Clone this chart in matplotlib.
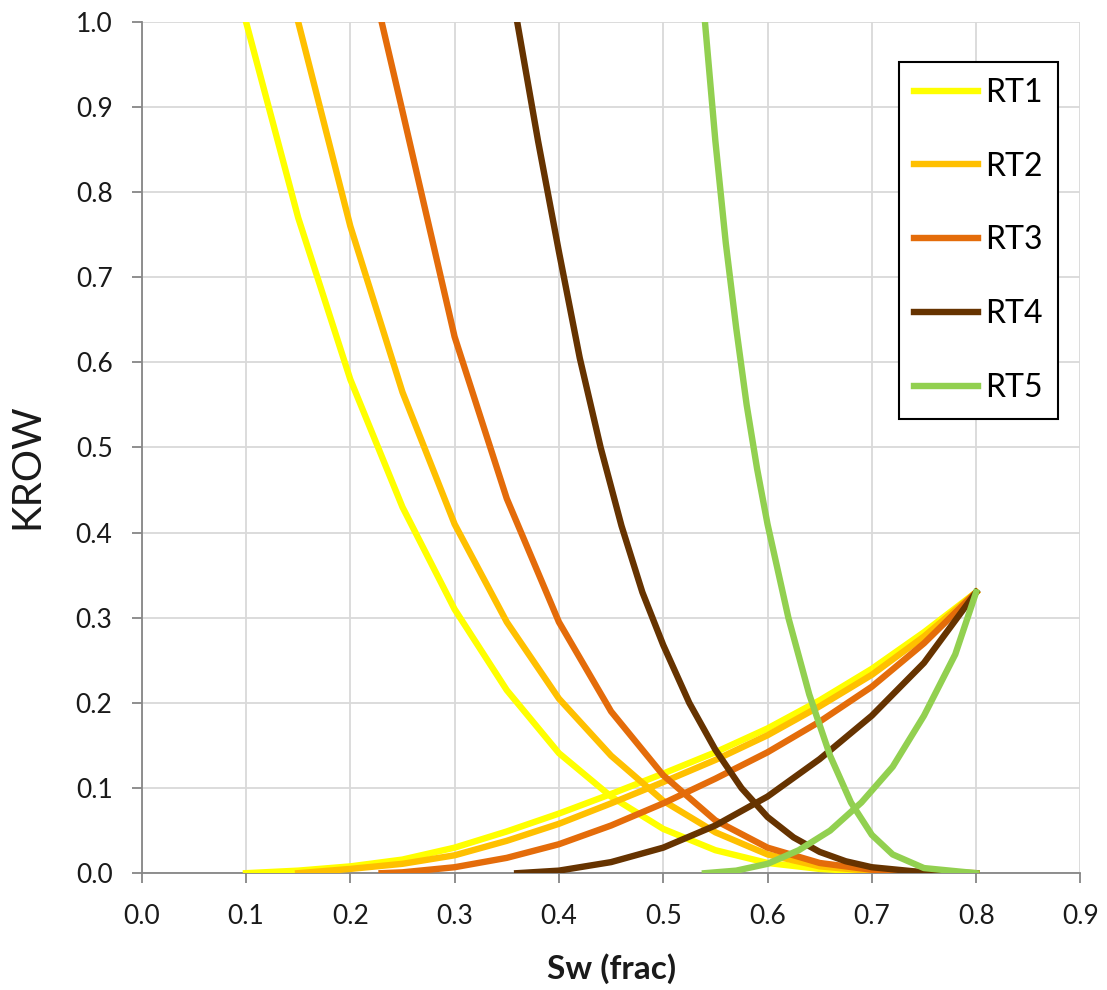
import matplotlib
matplotlib.use("Agg")
import matplotlib.pyplot as plt

plt.rcParams['font.family'] = ['Lato', 'DejaVu Sans']

# Sw (frac) / KROW werte
rt1_sw_o = [0.10, 0.15, 0.20, 0.25, 0.30, 0.35, 0.40, 0.45, 0.50, 0.55, 0.60, 0.65, 0.70, 0.75, 0.80]
rt1_kro = [1.00, 0.77, 0.58, 0.43, 0.31, 0.215, 0.141, 0.09, 0.052, 0.027, 0.012, 0.005, 0.0015, 0.0003, 0.0]
rt1_sw_w = [0.10, 0.15, 0.20, 0.25, 0.30, 0.35, 0.40, 0.45, 0.50, 0.55, 0.60, 0.65, 0.70, 0.75, 0.80]
rt1_krw = [0.0, 0.003, 0.008, 0.016, 0.03, 0.049, 0.07, 0.093, 0.117, 0.142, 0.17, 0.203, 0.24, 0.283, 0.33]

rt2_sw_o = [0.15, 0.20, 0.25, 0.30, 0.35, 0.40, 0.45, 0.50, 0.55, 0.60, 0.65, 0.70, 0.75, 0.80]
rt2_kro = [1.00, 0.76, 0.565, 0.41, 0.295, 0.205, 0.138, 0.085, 0.048, 0.022, 0.008, 0.0025, 0.0005, 0.0]
rt2_sw_w = [0.15, 0.20, 0.25, 0.30, 0.35, 0.40, 0.45, 0.50, 0.55, 0.60, 0.65, 0.70, 0.75, 0.80]
rt2_krw = [0.0, 0.005, 0.011, 0.021, 0.038, 0.058, 0.082, 0.107, 0.133, 0.162, 0.196, 0.233, 0.278, 0.33]

rt3_sw_o = [0.23, 0.25, 0.30, 0.35, 0.40, 0.45, 0.50, 0.55, 0.60, 0.65, 0.70, 0.75, 0.80]
rt3_kro = [1.00, 0.895, 0.63, 0.44, 0.295, 0.19, 0.115, 0.062, 0.03, 0.012, 0.004, 0.001, 0.0]
rt3_sw_w = [0.23, 0.25, 0.30, 0.35, 0.40, 0.45, 0.50, 0.55, 0.60, 0.65, 0.70, 0.75, 0.80]
rt3_krw = [0.0, 0.001, 0.007, 0.018, 0.034, 0.056, 0.082, 0.111, 0.142, 0.178, 0.219, 0.27, 0.33]

rt4_sw_o = [0.36, 0.38, 0.40, 0.42, 0.44, 0.46, 0.48, 0.50, 0.525, 0.55, 0.575, 0.60, 0.625, 0.65, 0.675, 0.70, 0.75, 0.80]
rt4_kro = [1.00, 0.86, 0.73, 0.605, 0.50, 0.408, 0.33, 0.268, 0.20, 0.145, 0.10, 0.066, 0.042, 0.025, 0.014, 0.007, 0.001, 0.0]
rt4_sw_w = [0.36, 0.40, 0.45, 0.50, 0.55, 0.60, 0.65, 0.70, 0.75, 0.80]
rt4_krw = [0.0, 0.003, 0.013, 0.03, 0.056, 0.09, 0.134, 0.185, 0.247, 0.33]

rt5_sw_o = [0.54, 0.55, 0.56, 0.57, 0.58, 0.59, 0.60, 0.62, 0.64, 0.66, 0.68, 0.70, 0.72, 0.75, 0.80]
rt5_kro = [1.00, 0.86, 0.74, 0.64, 0.55, 0.475, 0.41, 0.30, 0.21, 0.138, 0.083, 0.045, 0.022, 0.006, 0.0]
rt5_sw_w = [0.54, 0.57, 0.60, 0.63, 0.66, 0.69, 0.72, 0.75, 0.78, 0.80]
rt5_krw = [0.0, 0.003, 0.011, 0.027, 0.05, 0.083, 0.125, 0.185, 0.257, 0.33]

labels = ["RT1", "RT2", "RT3", "RT4", "RT5"]
colors = ["#FFFF00", "#FFC000", "#E46C0A", "#663300", "#92D050"]
kurven = [
    (rt1_sw_o, rt1_kro, rt1_sw_w, rt1_krw),
    (rt2_sw_o, rt2_kro, rt2_sw_w, rt2_krw),
    (rt3_sw_o, rt3_kro, rt3_sw_w, rt3_krw),
    (rt4_sw_o, rt4_kro, rt4_sw_w, rt4_krw),
    (rt5_sw_o, rt5_kro, rt5_sw_w, rt5_krw),
]

fig = plt.figure(figsize=(11.07, 9.9), dpi=100)
ax = fig.add_axes([0.128, 0.118, 0.848, 0.860])

for (swo, kro, sww, krw), lab, col in zip(kurven, labels, colors):
    ax.plot(swo, kro, color=col, lw=4.6, label=lab, solid_joinstyle="round", zorder=3)
    ax.plot(sww, krw, color=col, lw=4.6, solid_joinstyle="round", zorder=3)

ax.set_xlim(0, 0.9)
ax.set_ylim(0, 1.0)
ticks_x = [i / 10 for i in range(10)]
ticks_y = [i / 10 for i in range(11)]
ax.set_xticks(ticks_x)
ax.set_yticks(ticks_y)
ax.set_xticklabels([f"{t:.1f}" for t in ticks_x])
ax.set_yticklabels([f"{t:.1f}" for t in ticks_y])
ax.grid(True, color="#D9D9D9", lw=1.3, zorder=0)
ax.set_axisbelow(True)

for s in ["top", "right"]:
    ax.spines[s].set_visible(False)
for s in ["left", "bottom"]:
    ax.spines[s].set_color("#868686")
    ax.spines[s].set_linewidth(1.3)
ax.tick_params(direction="out", length=7, width=1.3, color="#868686",
               labelsize=19, labelcolor="#1a1a1a")
ax.tick_params(axis="x", pad=15)
ax.tick_params(axis="y", pad=14)

ax.set_xlabel("Sw (frac)", fontsize=24, fontweight="bold", color="#1a1a1a", va="top")
ax.xaxis.set_label_coords(0.5, -0.094)
ax.set_ylabel("KROW", fontsize=29, color="#1a1a1a")
ax.yaxis.set_label_coords(-0.103, 0.478)

leg = ax.legend(loc="upper right", bbox_to_anchor=(0.9765, 0.953), borderaxespad=0,
                fancybox=False, edgecolor="black", fontsize=23, handlelength=2.0,
                labelspacing=1.37, handletextpad=0.2, borderpad=0.5, framealpha=1)
leg.get_frame().set_linewidth(1.5)

fig.savefig("out.png", dpi=100)
